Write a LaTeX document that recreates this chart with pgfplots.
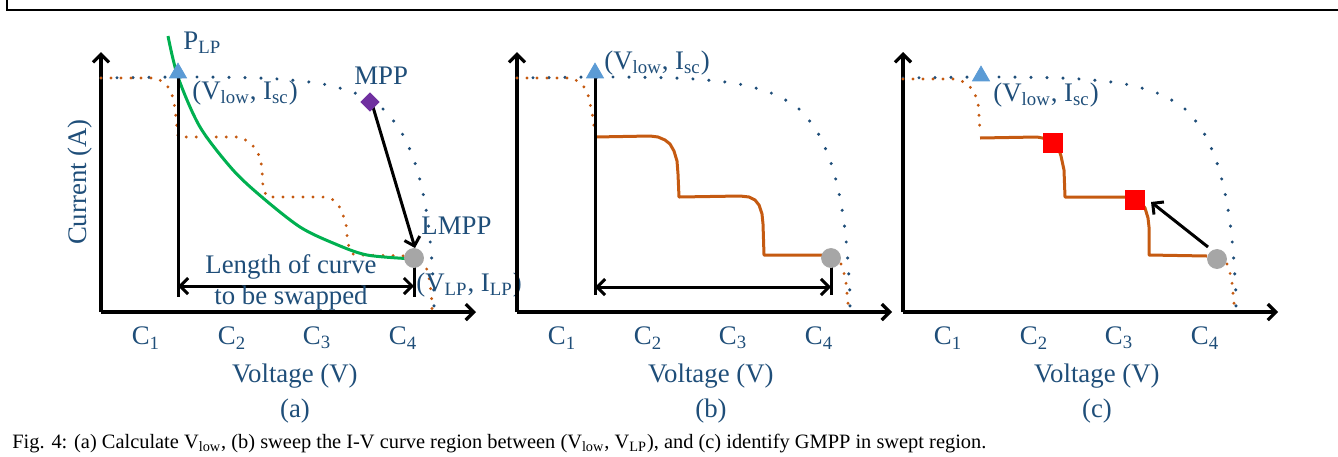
\documentclass[border=0pt]{standalone}
\usepackage{fontspec}
\setmainfont{Liberation Serif}
\usepackage{pgfplots}
\pgfplotsset{compat=1.18}
\usetikzlibrary{arrows.meta}

\definecolor{txtblue}{HTML}{1F4E79}
\definecolor{ivblue}{HTML}{1F4E79}
\definecolor{ivorange}{HTML}{C55A11}
\definecolor{lpgreen}{HTML}{00B050}
\definecolor{mpppurple}{HTML}{7030A0}
\definecolor{triblue}{HTML}{5B9BD5}
\definecolor{lmppgray}{HTML}{A6A6A6}

\newcommand{\bigtxt}{\fontsize{13.4}{16}\selectfont}

\pgfplotsset{
  ivpanel/.style={
    scale only axis, x=0.5pt, y=0.5pt,
    xmin=0, xmax=375, ymin=0, ymax=260,
    axis x line=bottom, axis y line=left,
    axis line style={line width=1.6pt, -{Straight Barb[length=4pt,width=8pt]}},
    xtick={45,131,216,302},
    xticklabels={C\textsubscript{1},C\textsubscript{2},C\textsubscript{3},C\textsubscript{4}},
    ytick=\empty,
    major tick length=0pt,
    tick label style={font=\bigtxt, text=txtblue},
    xticklabel style={anchor=center, yshift=-13pt},
    xlabel={Voltage (V)},
    label style={font=\bigtxt, text=txtblue},
    xlabel style={at={(axis description cs:0.517,-0.246)}, anchor=center},
    clip=false, anchor=origin,
  },
  bluedots/.style={ivblue, line width=1.7pt, line cap=round, dash pattern=on 0pt off 8pt, smooth},
  orangedots/.style={ivorange, line width=1.6pt, line cap=round, dash pattern=on 0pt off 5pt},
  blackline/.style={black, line width=1.5pt},
  barb/.style={-{Straight Barb[length=4pt,width=8pt]}},
}

% healthy I-V curve (dotted blue), same in every panel
\newcommand{\healthy}{\addplot[bluedots] coordinates {
  (0,234) (90,235) (157,234) (189,232) (222,228) (254,219) (282,203)
  (302,177) (315,146) (323,114) (328,82) (331,49) (333,16) (333,6)};}

\begin{document}
\begin{tikzpicture}
  \useasboundingbox (0,0) rectangle (669pt,-228pt);
  \draw[line width=1pt] (3.5pt,0) -- (3.5pt,-5pt) -- (669pt,-5pt);

  % ---------- (a)
  \begin{axis}[ivpanel, at={(50.5pt,-156pt)},
    ylabel={Current (A)},
    ylabel style={at={(axis description cs:-0.056,0.5)}, anchor=center}]
    \healthy
    \addplot[orangedots] coordinates {
      (0,234) (55,234) (62,230) (69,223) (72,214) (74,204) (76,185) (77,175)
      (139,175) (148,170) (155,163) (159,154) (161,144) (162,124) (166,115)
      (222,115) (231,113) (238,106) (242,97) (245,89) (246,77) (248,64)
      (252,58) (258,57) (310,56) (318,54) (324,48) (327,39) (329,29)
      (330,19) (331,9) (331,0)};
    \addplot[lpgreen, line width=1.5pt, smooth] coordinates {
      (67,276) (77,235) (99,185) (132,142) (162,114) (199,85) (232,69)
      (266,57) (314,53)};
    \addplot[blackline] coordinates {(77,234) (77,15)};
    \addplot[blackline] coordinates {(313,52) (313,15)};
    \addplot[blackline, {Straight Barb[length=4pt,width=8pt]}-{Straight Barb[length=4pt,width=8pt]}]
      coordinates {(77,26) (313,26)};
    \addplot[blackline, barb] coordinates {(272,205) (314,64)};
    \addplot[only marks, mark=triangle*, mark size=4.9pt, triblue] coordinates {(77,239)};
    \addplot[only marks, mark=square*, mark size=3.2pt, mark options={rotate=45}, mpppurple]
      coordinates {(269,210)};
    \addplot[only marks, mark=*, mark size=4.75pt, lmppgray] coordinates {(313,54)};
    \node[anchor=west, font=\bigtxt, text=txtblue, inner sep=0pt] at (axis cs:82,269) {P\textsubscript{LP}};
    \node[anchor=west, font=\bigtxt, text=txtblue, inner sep=0pt] at (axis cs:91,219) {(V\textsubscript{low}, I\textsubscript{sc})};
    \node[anchor=west, font=\bigtxt, text=txtblue, inner sep=0pt] at (axis cs:253,236) {MPP};
    \node[anchor=west, font=\bigtxt, text=txtblue, inner sep=0pt] at (axis cs:320,86) {LMPP};
    \node[anchor=west, font=\bigtxt, text=txtblue, inner sep=0pt] at (axis cs:315,27) {(V\textsubscript{LP}, I\textsubscript{LP})};
    \node[font=\bigtxt, text=txtblue, inner sep=0pt] at (axis cs:190,45) {Length of curve};
    \node[font=\bigtxt, text=txtblue, inner sep=0pt] at (axis cs:190,14) {to be swapped};
    \node[font=\bigtxt, text=txtblue] at (axis cs:194,-99) {(a)};
  \end{axis}

  % ---------- (b)
  \begin{axis}[ivpanel, at={(258.5pt,-156pt)}]
    \healthy
    \addplot[orangedots] coordinates {
      (0,234) (55,234) (62,230) (69,223) (72,214) (74,204) (76,194) (77,185)};
    \addplot[orangedots] coordinates {
      (324,48) (327,39) (329,29) (330,19) (331,9) (331,0)};
    \addplot[ivorange, line width=1.5pt, line join=round] coordinates {
      (78,175) (133,176) (141,175) (148,172) (153,168) (157,161) (160,151)
      (161,138) (162,115) (223,116) (232,115) (238,112) (242,107) (245,98)
      (246,88) (247,57) (305,57)};
    \addplot[blackline] coordinates {(78,234) (78,17)};
    \addplot[blackline] coordinates {(314,54) (314,17)};
    \addplot[blackline, {Straight Barb[length=4pt,width=8pt]}-{Straight Barb[length=4pt,width=8pt]}]
      coordinates {(78,25) (314,25)};
    \addplot[only marks, mark=triangle*, mark size=4.9pt, triblue] coordinates {(78,239)};
    \addplot[only marks, mark=*, mark size=4.75pt, lmppgray] coordinates {(314,54)};
    \node[anchor=west, font=\bigtxt, text=txtblue, inner sep=0pt] at (axis cs:87,249) {(V\textsubscript{low}, I\textsubscript{sc})};
    \node[font=\bigtxt, text=txtblue] at (axis cs:194,-99) {(b)};
  \end{axis}

  % ---------- (c)
  \begin{axis}[ivpanel, at={(451.5pt,-156pt)}]
    \healthy
    \addplot[orangedots] coordinates {
      (0,233) (54,233) (63,229) (70,222) (74,213) (76,203) (76,193) (77,183)};
    \addplot[orangedots] coordinates {
      (324,48) (327,39) (329,29) (330,19) (331,9) (331,0)};
    \addplot[ivorange, line width=1.5pt, line join=round] coordinates {
      (77,174) (134,175) (150,172) (155,165) (158,156) (161,142) (162,115)
      (224,115) (236,112) (242,104) (245,94) (246,85) (246,57) (304,56)};
    \addplot[blackline, barb] coordinates {(305,65) (248,110)};
    \addplot[only marks, mark=triangle*, mark size=4.9pt, triblue] coordinates {(78,236)};
    \addplot[only marks, mark=square*, mark size=4.75pt, red] coordinates {(150,169) (232,112)};
    \addplot[only marks, mark=*, mark size=4.75pt, lmppgray] coordinates {(314,53)};
    \node[anchor=west, font=\bigtxt, text=txtblue, inner sep=0pt] at (axis cs:90,217) {(V\textsubscript{low}, I\textsubscript{sc})};
    \node[font=\bigtxt, text=txtblue] at (axis cs:194,-99) {(c)};
  \end{axis}

  \node[anchor=base west, inner sep=0pt, font=\fontsize{10.2}{12}\selectfont] at (6pt,-224pt)
    {Fig. 4: (a) Calculate V\textsubscript{low}, (b) sweep the I-V curve region between (V\textsubscript{low}, V\textsubscript{LP}), and (c) identify GMPP in swept region.};
\end{tikzpicture}
\end{document}
